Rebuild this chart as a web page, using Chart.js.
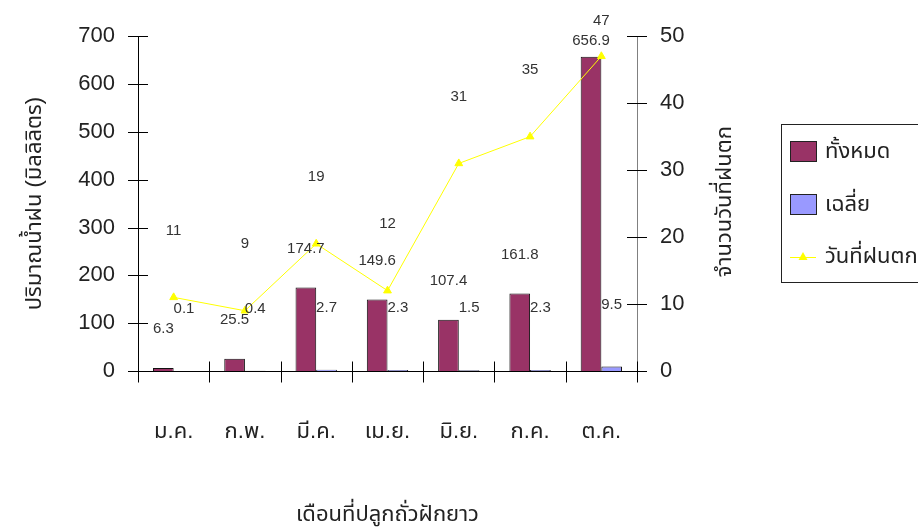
<!DOCTYPE html>
<html>
<head>
<meta charset="utf-8">
<script src="https://cdn.jsdelivr.net/npm/chart.js@4"></script>
<style>
  body { margin: 0; background: #fff; }
  canvas { display: block; }
</style>
</head>
<body>
<canvas id="rain" width="918" height="529"></canvas>
<script>
let months = ['ม.ค.', 'ก.พ.', 'มี.ค.', 'เม.ย.', 'มิ.ย.', 'ก.ค.', 'ต.ค.'];
let rainTotal = [6.3, 25.5, 174.7, 149.6, 107.4, 161.8, 656.9];
let rainAvg = [0.1, 0.4, 2.7, 2.3, 1.5, 2.3, 9.5];
let rainDays = [11, 9, 19, 12, 31, 35, 47];
let seriesNames = ['ทั้งหมด', 'เฉลี่ย', 'วันที่ฝนตก'];

let numFont = "'Liberation Sans', Arial, sans-serif";
let thaiFont = "'Liberation Sans', 'Noto Sans Thai', Tahoma, sans-serif";
let ink = '#222';

// axis lines, ticks, value labels, right title and legend drawn on top
let extras = {
    id: 'extras',
    afterDatasetsDraw(chart) {
        let ctx = chart.ctx;
        let area = chart.chartArea;
        let x = chart.scales.x, y = chart.scales.y, y1 = chart.scales.y1;
        ctx.save();
        ctx.lineWidth = 1;

        // right axis (grey line, dark ticks)
        ctx.strokeStyle = '#808080';
        ctx.beginPath();
        ctx.moveTo(area.right + 0.5, area.top);
        ctx.lineTo(area.right + 0.5, area.bottom + 11);
        ctx.stroke();
        ctx.strokeStyle = '#000';
        y1.ticks.forEach(t => {
            let py = Math.round(y1.getPixelForValue(t.value)) + 0.5;
            ctx.beginPath();
            ctx.moveTo(area.right - 10, py);
            ctx.lineTo(area.right + 10, py);
            ctx.stroke();
        });

        // left axis
        ctx.beginPath();
        ctx.moveTo(area.left + 0.5, area.top);
        ctx.lineTo(area.left + 0.5, area.bottom + 11);
        ctx.stroke();
        y.ticks.forEach(t => {
            let py = Math.round(y.getPixelForValue(t.value)) + 0.5;
            ctx.beginPath();
            ctx.moveTo(area.left - 10, py);
            ctx.lineTo(area.left + 10, py);
            ctx.stroke();
        });

        // x axis and category boundary ticks
        let base = Math.round(y.getPixelForValue(0)) + 0.5;
        ctx.beginPath();
        ctx.moveTo(area.left, base);
        ctx.lineTo(area.right + 10, base);
        ctx.stroke();
        for (let i = 0; i <= months.length; i++) {
            let px = Math.round(x.getPixelForValue(i - 0.5)) + 0.5;
            ctx.beginPath();
            ctx.moveTo(px, base - 10);
            ctx.lineTo(px, base + 11);
            ctx.stroke();
        }

        // value labels
        ctx.font = '15px ' + numFont;
        ctx.fillStyle = '#333';
        ctx.textAlign = 'center';
        ctx.textBaseline = 'middle';
        chart.getDatasetMeta(1).data.forEach((el, i) => {
            ctx.fillText(rainTotal[i], el.x, Math.max(el.y - 39, 40.5));
        });
        chart.getDatasetMeta(2).data.forEach((el, i) => {
            ctx.fillText(rainAvg[i], el.x, el.y - 62);
        });
        chart.getDatasetMeta(0).data.forEach((el, i) => {
            ctx.fillText(rainDays[i], el.x, Math.max(el.y - 66.5, 20.5));
        });

        // right axis title, reads bottom to top
        ctx.fillStyle = ink;
        ctx.font = '22px ' + thaiFont;
        ctx.translate(725, (area.top + area.bottom) / 2 - 2);
        ctx.rotate(-Math.PI / 2);
        ctx.fillText('จำนวนวันที่ฝนตก', 0, 0);
        ctx.setTransform(1, 0, 0, 1, 0, 0);

        // legend
        ctx.strokeStyle = '#222';
        ctx.strokeRect(781.5, 124.5, 200, 158);
        let sw = [['#993366', 152], ['#9999FF', 205]];
        sw.forEach((s, i) => {
            ctx.fillStyle = s[0];
            ctx.fillRect(790.5, s[1] - 10.5, 26, 20);
            ctx.strokeRect(790.5, s[1] - 10.5, 26, 20);
        });
        ctx.strokeStyle = '#FFFF00';
        ctx.beginPath();
        ctx.moveTo(790, 257.5);
        ctx.lineTo(816, 257.5);
        ctx.stroke();
        ctx.fillStyle = '#FFFF00';
        ctx.beginPath();
        ctx.moveTo(803, 252);
        ctx.lineTo(807.5, 260);
        ctx.lineTo(798.5, 260);
        ctx.closePath();
        ctx.fill();
        ctx.fillStyle = ink;
        ctx.textAlign = 'left';
        [152, 205, 257].forEach((ly, i) => {
            ctx.fillText(seriesNames[i], 825, ly);
        });
        ctx.restore();
    }
};

new Chart(document.getElementById('rain').getContext('2d'), {
    type: 'bar',
    data: {
        labels: months,
        datasets: [{
            type: 'line',
            label: seriesNames[2],
            data: rainDays,
            yAxisID: 'y1',
            order: 0,
            borderColor: '#FFFF00',
            borderWidth: 1,
            pointStyle: 'triangle',
            pointRadius: 4.5,
            pointBackgroundColor: '#FFFF00',
            pointBorderColor: '#FFFF00',
            tension: 0
        }, {
            label: seriesNames[0],
            data: rainTotal,
            yAxisID: 'y',
            order: 1,
            backgroundColor: '#993366',
            borderColor: '#111',
            borderWidth: 1
        }, {
            label: seriesNames[1],
            data: rainAvg,
            yAxisID: 'y',
            order: 1,
            backgroundColor: '#9999FF',
            borderColor: '#111',
            borderWidth: 1
        }]
    },
    options: {
        responsive: false,
        animation: false,
        devicePixelRatio: 1,
        datasets: {
            bar: {
                categoryPercentage: 0.58,
                barPercentage: 1
            }
        },
        layout: {
            padding: {top: 36, left: 0, right: 0, bottom: 0}
        },
        plugins: {
            legend: {display: false},
            tooltip: {enabled: false}
        },
        scales: {
            x: {
                offset: true,
                grid: {display: false, drawTicks: false},
                border: {display: false},
                ticks: {
                    font: {family: thaiFont, size: 22},
                    color: ink,
                    padding: 48,
                    maxRotation: 0
                },
                title: {
                    display: true,
                    text: 'เดือนที่ปลูกถั่วฝักยาว',
                    font: {family: thaiFont, size: 22},
                    color: ink,
                    padding: {top: 0, bottom: 1}
                },
                afterFit: scale => { scale.height = 158; }
            },
            y: {
                position: 'left',
                min: 0,
                max: 700,
                grid: {display: false, drawTicks: false},
                border: {display: false},
                ticks: {
                    stepSize: 100,
                    font: {family: numFont, size: 22},
                    color: ink,
                    padding: 23
                },
                title: {
                    display: true,
                    text: 'ปริมาณน้ำฝน (มิลลิลิตร)',
                    font: {family: thaiFont, size: 22},
                    color: ink,
                    padding: {top: 22, bottom: 0}
                },
                afterFit: scale => { scale.width = 138; }
            },
            y1: {
                position: 'right',
                min: 0,
                max: 50,
                grid: {display: false, drawTicks: false},
                border: {display: false},
                ticks: {
                    stepSize: 10,
                    font: {family: numFont, size: 22},
                    color: ink,
                    padding: 23
                },
                afterFit: scale => { scale.width = 281; }
            }
        }
    },
    plugins: [extras]
});
</script>
</body>
</html>
